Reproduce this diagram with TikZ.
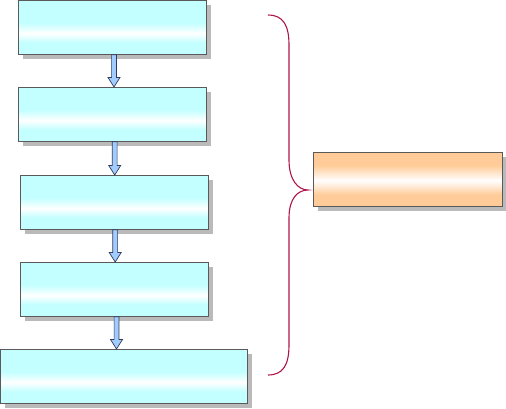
\documentclass[tikz,border=0pt]{standalone}
\usepackage{tikz}
\usetikzlibrary{calc,shadows}

\definecolor{boxcyan}{RGB}{196,255,255}
\definecolor{boxorange}{RGB}{255,204,153}
\definecolor{boxline}{RGB}{90,90,90}
\definecolor{arrowblue}{RGB}{160,204,255}
\definecolor{arrowline}{RGB}{50,60,90}
\definecolor{bracered}{RGB}{175,20,75}

\pgfdeclareverticalshading{cyanband}{100bp}{color(0bp)=(boxcyan); color(36bp)=(boxcyan);
  color(44.5bp)=(white); color(54bp)=(boxcyan); color(100bp)=(boxcyan)}
\pgfdeclareverticalshading{orangeband}{100bp}{color(0bp)=(boxorange); color(36bp)=(boxorange);
  color(49bp)=(white); color(63bp)=(boxorange); color(100bp)=(boxorange)}

% block arrow from the bottom of #1 to the top of #2, at x = #3
\newcommand\FlowArrow[3]{%
  \path[FlowArrowStyle] let \p1=(#1.south), \p2=(#2.north) in
    (#3-2.4,\y1) -- (#3+2.4,\y1) -- (#3+2.4,\y2+9.5pt) -- (#3+6,\y2+9.5pt)
    -- (#3,\y2) -- (#3-6,\y2+9.5pt) -- (#3-2.4,\y2+9.5pt) -- cycle;}

\begin{document}
\begin{tikzpicture}[x=1pt,y=-1pt]
        \tikzset{BoxStyle/.style={draw=boxline, line width=0.8pt, anchor=north west,
                 minimum width=188pt, minimum height=54pt, inner sep=0pt,
                 drop shadow={shadow xshift=4.5pt, shadow yshift=-4.5pt,
                              fill=black!27, opacity=1}},
                 FlowBox/.style={BoxStyle, shading=cyanband},
                 ResultBox/.style={BoxStyle, shading=orangeband, minimum width=189pt},
                 FlowArrowStyle/.style={fill=arrowblue, draw=arrowline, line width=0.7pt,
                 line join=miter},
                 BraceStyle/.style={draw=bracered, line width=1.1pt}}
        \useasboundingbox (0,0) rectangle (506,408);
        \node[FlowBox] (S1) at (18,0) {};
        \node[FlowBox] (S2) at (18,87) {};
        \node[FlowBox] (S3) at (20,175) {};
        \node[FlowBox] (S4) at (20,262) {};
        \node[FlowBox, minimum width=247pt] (S5) at (0,349) {};
        \node[ResultBox] (R) at (313,152) {};
        \FlowArrow{S1}{S2}{114}
        \FlowArrow{S2}{S3}{114.7}
        \FlowArrow{S3}{S4}{115.2}
        \FlowArrow{S4}{S5}{116.5}
        % brace
        \coordinate (BraceTop) at (268,15);
        \coordinate (BraceBot) at (268,375);
        \coordinate (BraceTip) at (308,190);
        \draw[BraceStyle] (BraceTop) .. controls +(15,0) and +(0,-20) .. (289,45)
          -- (289,160) .. controls +(0,20) and +(-10,0) .. (BraceTip)
          .. controls +(-10,0) and +(0,-20) .. (289,218)
          -- (289,345) .. controls +(0,20) and +(15,0) .. (BraceBot);
    \end{tikzpicture}
\end{document}
